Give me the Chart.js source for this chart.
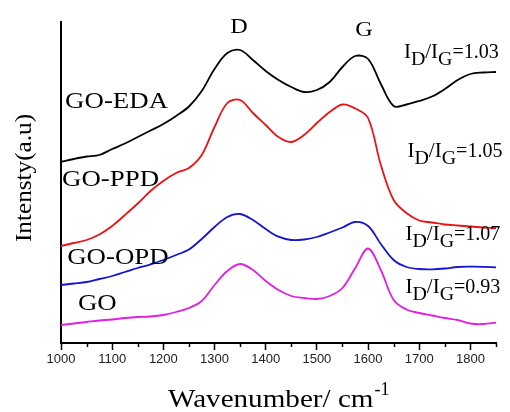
<!DOCTYPE html>
<html>
<head>
<meta charset="utf-8">
<script src="https://cdn.jsdelivr.net/npm/chart.js@4.4.1/dist/chart.umd.min.js"></script>
<style>
  html, body { margin: 0; padding: 0; background: #fff; }
  #wrap { width: 510px; height: 412px; }
</style>
</head>
<body>
<div id="wrap"><canvas id="raman" width="510" height="412"></canvas></div>
<script>
// Raman spectra, wavenumber step 25 cm-1, intensity in arbitrary units (offset stacked)
const wavenumbers = [1000, 1025, 1050, 1075, 1100, 1125, 1150, 1175, 1200, 1225, 1250, 1275, 1300, 1325, 1350, 1375, 1400, 1425,
                     1450, 1475, 1500, 1525, 1550, 1575, 1600, 1625, 1650, 1675, 1700, 1725, 1750, 1775, 1800, 1825, 1850];

const goEda = [181, 184, 186.5, 188, 194, 199.5, 206, 212.5, 219, 227, 236.5, 252, 274, 290, 293, 283, 272, 263,
               256, 251, 253, 261, 276, 287, 284, 259, 237, 238.5, 242, 246.5, 254, 263, 269, 270.5, 271];
const goPpd = [97, 100, 103, 108.5, 117, 128, 139.5, 152, 162, 170, 175, 188, 216, 240, 243, 230, 218, 206,
               201, 208, 220, 231, 238.5, 234.5, 225, 178, 143, 130, 122.5, 120.5, 118.5, 117.5, 116.5, 115.5, 114.7];
const goOpd = [58, 59.5, 61, 64, 67, 71, 75, 78.5, 83, 88, 93.5, 104, 116, 126, 129, 123, 114, 106.3,
               103, 103.5, 106, 110.5, 115.5, 121, 117, 99, 83, 76, 74, 73.7, 74.5, 76, 76.3, 76.2, 75.7];
const go    = [18, 19.5, 21, 22.5, 23.5, 25, 26, 26.5, 28, 31, 35, 42, 58, 72, 79, 73, 62, 53,
               47, 45, 44, 47, 55, 75, 94.5, 73, 43, 33.5, 30, 27.5, 25, 23, 19.5, 19, 20.3];

const xTickLabels = [1000, 1100, 1200, 1300, 1400, 1500, 1600, 1700, 1800];
const minorTicks = [1050, 1150, 1250, 1350, 1450, 1550, 1650, 1750, 1850];

// text labels placed in data coordinates
const peakLabels = [
    { text: 'D', x: 1348, y: 310 },
    { text: 'G', x: 1592, y: 307 }
];
const sampleLabels = [
    { text: 'GO-EDA', x: 1008, y: 235 },
    { text: 'GO-PPD', x: 1002, y: 157 },
    { text: 'GO-OPD', x: 1012, y: 79 },
    { text: 'GO', x: 1033, y: 33 }
];
const ratioLabels = [
    { value: '1.03', x: 1670, y: 285 },
    { value: '1.05', x: 1677, y: 186 },
    { value: '1.07', x: 1673, y: 103 },
    { value: '0.93', x: 1673, y: 50 }
];

function toPoints(arr) {
    return arr.map((v, i) => ({ x: wavenumbers[i], y: v }));
}

const SERIF = '"Liberation Serif", "Times New Roman", serif';

function stretchText(ctx, text, x, y, size, align, sx) {
    ctx.save();
    ctx.font = size + 'px ' + SERIF;
    const w = ctx.measureText(text).width * sx;
    let left = x;
    if (align === 'center') left = x - w / 2;
    ctx.translate(left, y);
    ctx.scale(sx, 1);
    ctx.textAlign = 'left';
    ctx.textBaseline = 'alphabetic';
    ctx.fillText(text, 0, 0);
    ctx.restore();
    return w;
}

const decorations = {
    id: 'decorations',
    afterDraw(chart) {
        const ctx = chart.ctx;
        const xs = chart.scales.x;
        const ys = chart.scales.y;
        const base = chart.chartArea.bottom;

        // minor ticks
        ctx.save();
        ctx.strokeStyle = '#000';
        ctx.lineWidth = 1.5;
        minorTicks.forEach(t => {
            const px = Math.round(xs.getPixelForValue(t)) + 0.5;
            ctx.beginPath();
            ctx.moveTo(px, base);
            ctx.lineTo(px, base + 4);
            ctx.stroke();
        });
        ctx.restore();

        ctx.fillStyle = '#000';

        peakLabels.forEach(l => {
            stretchText(ctx, l.text, xs.getPixelForValue(l.x), ys.getPixelForValue(l.y), 22, 'center', 1.1);
        });
        sampleLabels.forEach(l => {
            stretchText(ctx, l.text, xs.getPixelForValue(l.x), ys.getPixelForValue(l.y), 24, 'left', 1.12);
        });
        ratioLabels.forEach(l => {
            let px = xs.getPixelForValue(l.x);
            const py = ys.getPixelForValue(l.y);
            px += stretchText(ctx, 'I', px, py, 20, 'left', 1.05);
            px += stretchText(ctx, 'D', px, py + 7, 19, 'left', 1.05);
            px += stretchText(ctx, '/I', px, py, 20, 'left', 1.05);
            px += stretchText(ctx, 'G', px, py + 7, 19, 'left', 1.05);
            stretchText(ctx, '=' + l.value, px, py, 20, 'left', 1.0);
        });

        // axis titles
        const xTitle = 'Wavenumber/ cm';
        ctx.save();
        ctx.font = '26px ' + SERIF;
        const tw = ctx.measureText(xTitle).width * 1.12;
        ctx.font = '18px ' + SERIF;
        const sw = ctx.measureText('-1').width;
        ctx.restore();
        const startX = 168;
        stretchText(ctx, xTitle, startX, 407, 26, 'left', 1.12);
        stretchText(ctx, '-1', startX + tw + 1, 395, 18, 'left', 1.0);

        ctx.save();
        ctx.translate(31, 178);
        ctx.rotate(-Math.PI / 2);
        stretchText(ctx, 'Intensty(a.u)', 0, 0, 24, 'center', 1.05);
        ctx.restore();
    }
};

const lineStyle = { pointRadius: 0, borderWidth: 1.8, tension: 0.35, fill: false };

new Chart(document.getElementById('raman'), {
    type: 'line',
    data: {
        datasets: [
            { label: 'GO-EDA', data: toPoints(goEda), borderColor: '#000000', ...lineStyle },
            { label: 'GO-PPD', data: toPoints(goPpd), borderColor: '#ee1111', ...lineStyle },
            { label: 'GO-OPD', data: toPoints(goOpd), borderColor: '#1515d0', ...lineStyle },
            { label: 'GO', data: toPoints(go), borderColor: '#e21ee2', ...lineStyle }
        ]
    },
    options: {
        responsive: false,
        animation: false,
        layout: { padding: { left: 0, right: 14, top: 22, bottom: 0 } },
        plugins: {
            legend: { display: false },
            tooltip: { enabled: false }
        },
        scales: {
            x: {
                type: 'linear',
                min: 1000,
                max: 1850,
                border: { color: '#000', width: 2 },
                grid: { drawOnChartArea: false, color: '#000', tickLength: 7, tickWidth: 1.5 },
                ticks: {
                    stepSize: 100,
                    autoSkip: false,
                    maxRotation: 0,
                    padding: 2,
                    color: '#222',
                    font: { family: '"Liberation Sans", Arial, sans-serif', size: 13 },
                    callback: function(value) {
                        return String(value);
                    }
                },
                afterBuildTicks: function(scale) {
                    scale.ticks = xTickLabels.map(v => ({ value: v }));
                },
                afterFit: function(scale) {
                    scale.height = 69;
                }
            },
            y: {
                min: 0,
                max: 321,
                border: { color: '#000', width: 2 },
                grid: { display: false },
                ticks: { display: false },
                afterFit: function(scale) {
                    scale.width = 61;
                }
            }
        }
    },
    plugins: [decorations]
});
</script>
</body>
</html>
